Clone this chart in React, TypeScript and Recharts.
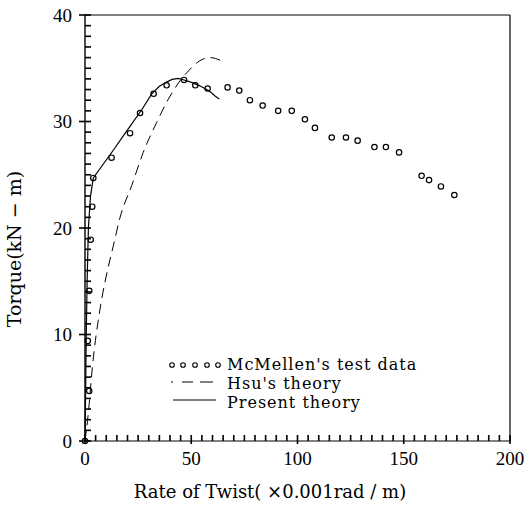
import React from "react";
import {
  ComposedChart,
  Line,
  Scatter,
  XAxis,
  YAxis,
  ReferenceLine,
  Legend,
} from "recharts";

// McMellen's test data (rate of twist x0.001 rad/m, torque kN-m)
const testTwist = [0, 2.0, 1.3, 2.0, 2.7, 3.4, 3.9, 12.5, 21.2, 25.9, 32.3, 38.4, 46.6, 51.9, 57.7, 67.1, 72.6, 77.6, 83.6, 90.9, 97.3, 103.5, 108.2, 116.1, 122.8, 128.3, 136.2, 141.6, 147.8, 158.4, 161.9, 167.5, 173.8];
const testTorque = [0, 4.7, 9.4, 14.1, 18.9, 22.0, 24.7, 26.6, 28.9, 30.8, 32.6, 33.4, 33.9, 33.4, 33.1, 33.2, 32.9, 32.0, 31.5, 31.0, 31.0, 30.2, 29.4, 28.5, 28.5, 28.2, 27.6, 27.6, 27.1, 24.9, 24.5, 23.9, 23.1];

// Hsu's theory
const hsuTwist = [0, 1.5, 3.5, 7.0, 10.0, 13.3, 16.5, 22.0, 27.4, 33.7, 38.4, 43.9, 49.4, 54.0, 58.8, 64.3];
const hsuTorque = [0, 2.5, 7.0, 12.3, 15.5, 18.3, 21.0, 24.0, 27.1, 29.9, 31.8, 33.6, 34.9, 35.7, 36.0, 35.7];

// Present theory
const presentTwist = [0, 0.3, 0.6, 1.0, 1.6, 2.6, 3.9, 13.3, 19.6, 26.7, 31.4, 35.0, 38.4, 41.0, 43.9, 46.6, 49.0, 51.0, 54.0, 57.2, 59.5, 61.2, 63.2];
const presentTorque = [0, 5.0, 10.0, 15.0, 20.0, 23.0, 24.7, 27.3, 29.1, 31.1, 32.6, 33.3, 33.7, 33.95, 34.05, 33.9, 33.75, 33.6, 33.35, 33.0, 32.7, 32.4, 32.1];

const xMajor = [0, 50, 100, 150, 200];
const yMajor = [0, 10, 20, 30, 40];
const xTicks = Array.from({ length: 41 }, (_, i) => i * 5);
const yTicks = Array.from({ length: 41 }, (_, i) => i);

const NUM_FONT = "Liberation Serif";
const TEXT_FONT = "DejaVu Serif";

const testData = testTwist.map((x, i) => ({ x, y: testTorque[i] }));
const hsuData = hsuTwist.map((x, i) => ({ x, y: hsuTorque[i] }));
const presentData = presentTwist.map((x, i) => ({ x, y: presentTorque[i] }));

function YTick(props: any) {
  const { x, y, payload } = props;
  const major = yMajor.includes(payload.value);
  return (
    <g>
      <rect x={major ? x - 6 : x} y={y - 0.8} width={major ? 12 : 6} height={1.6} fill="#000" />
      {major && (
        <text x={x - 13} y={y} dy={6.5} textAnchor="end" fontSize={19} fontFamily={NUM_FONT} fill="#000">
          {payload.value}
        </text>
      )}
    </g>
  );
}

function XTick(props: any) {
  const { x, y, payload } = props;
  const major = xMajor.includes(payload.value);
  return (
    <g>
      <rect x={x - 0.8} y={y - 6} width={1.6} height={major ? 9 : 6} fill="#000" />
      {major && (
        <text x={x} y={y} dy={23.5} textAnchor="middle" fontSize={19} fontFamily={NUM_FONT} fill="#000">
          {payload.value}
        </text>
      )}
    </g>
  );
}

function OpenCircle(props: any) {
  const { cx, cy } = props;
  return <circle cx={cx} cy={cy} r={2.7} fill="none" stroke="#000" strokeWidth={1.2} />;
}

function LegendBox() {
  return (
    <svg width={270} height={70} style={{ overflow: "visible" }}>
      {[12, 23, 35, 47, 58].map((cx) => (
        <circle key={cx} cx={cx} cy={15} r={2.3} fill="none" stroke="#000" strokeWidth={1.1} />
      ))}
      <line x1={11} x2={53} y1={32} y2={32} stroke="#000" strokeWidth={1} strokeDasharray="2 9 11 7 13" />
      <line x1={13} x2={56} y1={50} y2={50} stroke="#000" strokeWidth={1.2} />
      <text x={67} y={20} fontSize={16} letterSpacing={1} fontFamily={TEXT_FONT}>McMellen's test data</text>
      <text x={67} y={39} fontSize={16} letterSpacing={1} fontFamily={TEXT_FONT}>Hsu's theory</text>
      <text x={67} y={58} fontSize={16} letterSpacing={1} fontFamily={TEXT_FONT}>Present theory</text>
    </svg>
  );
}

export default function App() {
  return (
    <div style={{ position: "absolute", left: 0, top: 0, width: 524, height: 507, background: "#fff" }}>
      <ComposedChart
        width={524}
        height={507}
        margin={{ top: 15, right: 14, bottom: 36, left: 35 }}
      >
        <XAxis
          type="number"
          dataKey="x"
          domain={[0, 200]}
          ticks={xTicks}
          interval={0}
          height={30}
          tickSize={0}
          tickMargin={0}
          tickLine={false}
          tick={XTick}
          axisLine={{ stroke: "#000", strokeWidth: 1.2 }}
        />
        <YAxis
          type="number"
          domain={[0, 40]}
          ticks={yTicks}
          interval={0}
          width={50}
          tickSize={0}
          tickMargin={0}
          tickLine={false}
          tick={YTick}
          axisLine={{ stroke: "#000", strokeWidth: 1.4 }}
        />
        <ReferenceLine y={40} stroke="#000" strokeWidth={1.2} />
        <ReferenceLine x={200} stroke="#000" strokeWidth={1.2} />
        <Line
          data={hsuData}
          dataKey="y"
          type="monotone"
          stroke="#000"
          strokeWidth={1}
          strokeDasharray="10 6"
          dot={false}
          isAnimationActive={false}
        />
        <Line
          data={presentData}
          dataKey="y"
          type="linear"
          stroke="#000"
          strokeWidth={1.2}
          dot={false}
          isAnimationActive={false}
        />
        <Scatter data={testData} dataKey="y" shape={<OpenCircle />} isAnimationActive={false} />
        <Legend
          layout="horizontal"
          verticalAlign="middle"
          align="center"
          content={() => <LegendBox />}
          wrapperStyle={{ left: 160, top: 350, width: 270, height: 70 }}
        />
      </ComposedChart>
      <svg
        width={524}
        height={507}
        style={{ position: "absolute", left: 0, top: 0, pointerEvents: "none" }}
      >
        <text x={270} y={498} textAnchor="middle" fontSize={18} fontFamily={TEXT_FONT} fill="#000">
          Rate of Twist( ×0.001rad / m)
        </text>
        <text
          transform="translate(21,249) rotate(-90)"
          textAnchor="middle"
          fontSize={19}
          fontFamily={TEXT_FONT}
          fill="#000"
        >
          Torque(kN − m)
        </text>
      </svg>
    </div>
  );
}
